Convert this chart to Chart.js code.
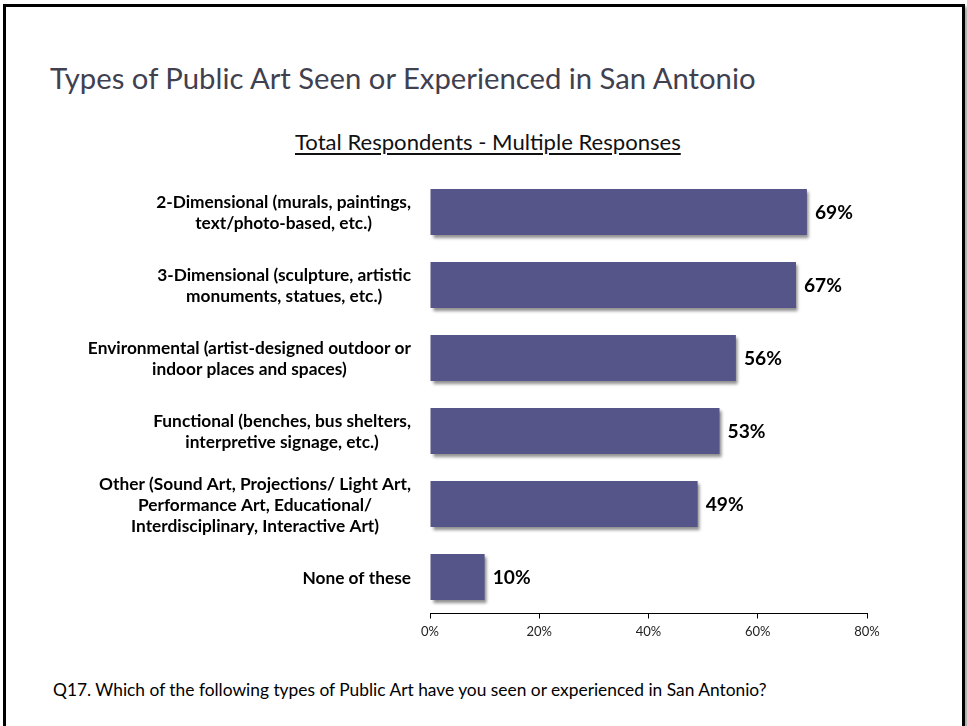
<!DOCTYPE html>
<html><head><meta charset="utf-8">
<script src="https://cdn.jsdelivr.net/npm/chart.js@4.4.0/dist/chart.umd.min.js"></script>
<style>
html,body{margin:0;padding:0;background:#fff;width:967px;height:726px;overflow:hidden;font-family:Lato,sans-serif;}
#frame{position:absolute;left:3px;top:4px;width:956px;height:800px;border:3px solid #000;box-shadow:3px 3px 3px rgba(0,0,0,0.35);}
.txt{position:absolute;white-space:nowrap;line-height:1.2;font-family:Lato,sans-serif;}
#wrap{position:absolute;left:0;top:0;width:967px;height:726px;}
</style></head>
<body>
<div id="frame"></div>
<div id="title" class="txt" style="color:#40404f">Types of Public Art Seen or Experienced in San Antonio</div>
<div id="subtitle" class="txt" style="color:#111;text-decoration:underline;text-underline-offset:3px">Total Respondents - Multiple Responses</div>
<div id="note" class="txt" style="color:#000">Q17. Which of the following types of Public Art have you seen or experienced in San Antonio?</div>
<div id="wrap"><canvas id="c"></canvas></div>
<script>
// ---- data ----
const categories = [
  ["2-Dimensional (murals, paintings,", "text/photo-based, etc.)"],
  ["3-Dimensional (sculpture, artistic", "monuments, statues, etc.)"],
  ["Environmental (artist-designed outdoor or", "indoor places and spaces)"],
  ["Functional (benches, bus shelters,", "interpretive signage, etc.)"],
  ["Other (Sound Art, Projections/ Light Art,", "Performance Art, Educational/", "Interdisciplinary, Interactive Art)"],
  ["None of these"]
];
const values = [69, 67, 56, 53, 49, 10];
const xTicks = [0, 20, 40, 60, 80];

const mctx = document.createElement('canvas').getContext('2d');
function fitSize(text, weight, target) {
  mctx.font = weight + ' 100px Lato';
  return 100 * target / mctx.measureText(text).width;
}
function place(id, target, left, baseline, weight) {
  const el = document.getElementById(id);
  const s = fitSize(el.textContent, weight, target);
  el.style.fontSize = s + 'px';
  el.style.fontWeight = weight;
  el.style.left = left + 'px';
  el.style.top = (baseline - 0.987 * s) + 'px';
}

function build() {
  place('title', 709, 50, 89, 'normal');
  place('subtitle', 386, 295, 151, 'normal');
  place('note', 717, 53, 697, 'normal');

  const catSize = fitSize("Other (Sound Art, Projections/ Light Art,", 'bold', 312);
  const valSize = fitSize("69%", 'bold', 38);

  const shadowPlugin = {
    id: 'barShadow',
    beforeDatasetsDraw(chart) {
      const c = chart.ctx; c.save();
      c.shadowColor = 'rgba(0,0,0,0.45)';
      c.shadowOffsetX = 2; c.shadowOffsetY = 3; c.shadowBlur = 3;
    },
    afterDatasetsDraw(chart) { chart.ctx.restore(); }
  };

  const labelPlugin = {
    id: 'labels',
    afterDraw(chart) {
      const c = chart.ctx;
      const ys = chart.scales.y;
      const area = chart.chartArea;
      c.save();
      // category labels: block right-aligned, lines centered within block
      c.font = 'bold ' + catSize + 'px Lato';
      c.fillStyle = '#000';
      c.textAlign = 'center';
      c.textBaseline = 'middle';
      const lh = 21;
      categories.forEach((lines, i) => {
        const y = ys.getPixelForValue(i);
        const widest = Math.max(...lines.map(l => c.measureText(l).width));
        const cx = area.left - 19 - widest / 2;
        const y0 = y - (lines.length - 1) * lh / 2;
        lines.forEach((l, k) => c.fillText(l, cx, y0 + k * lh + 1));
      });
      // value labels
      c.font = 'bold ' + valSize + 'px Lato';
      c.textAlign = 'left';
      const meta = chart.getDatasetMeta(0);
      meta.data.forEach((bar, i) => {
        c.fillText(values[i] + '%', bar.x + 8, bar.y + 1);
      });
      c.restore();
    }
  };

  new Chart(document.getElementById('c'), {
    type: 'bar',
    data: {
      labels: categories,
      datasets: [{
        data: values,
        backgroundColor: '#555589',
        borderWidth: 0,
        barPercentage: 0.63,
        categoryPercentage: 1
      }]
    },
    options: {
      indexAxis: 'y',
      responsive: true,
      maintainAspectRatio: false,
      animation: false,
      layout: { padding: { left: 430, right: 100, top: 175.5, bottom: 82.5 } },
      plugins: { legend: { display: false }, tooltip: { enabled: false } },
      scales: {
        y: { display: false },
        x: {
          min: 0, max: 80,
          afterBuildTicks(scale) { scale.ticks = xTicks.map(v => ({ value: v })); },
          afterFit(scale) { scale.height = 30; },
          ticks: {
            callback: v => v + '%',
            color: '#222',
            font: { family: 'Lato', size: 13 },
            padding: 6,
            maxRotation: 0
          },
          grid: { display: true, drawOnChartArea: false, drawTicks: true, tickLength: 5, color: '#000', lineWidth: 1 },
          border: { display: true, color: '#000', width: 1 }
        }
      }
    },
    plugins: [shadowPlugin, labelPlugin]
  });
}

if (document.fonts && document.fonts.load) {
  Promise.all([document.fonts.load('bold 20px Lato'), document.fonts.load('20px Lato')]).then(build, build);
} else build();
</script>
</body></html>
